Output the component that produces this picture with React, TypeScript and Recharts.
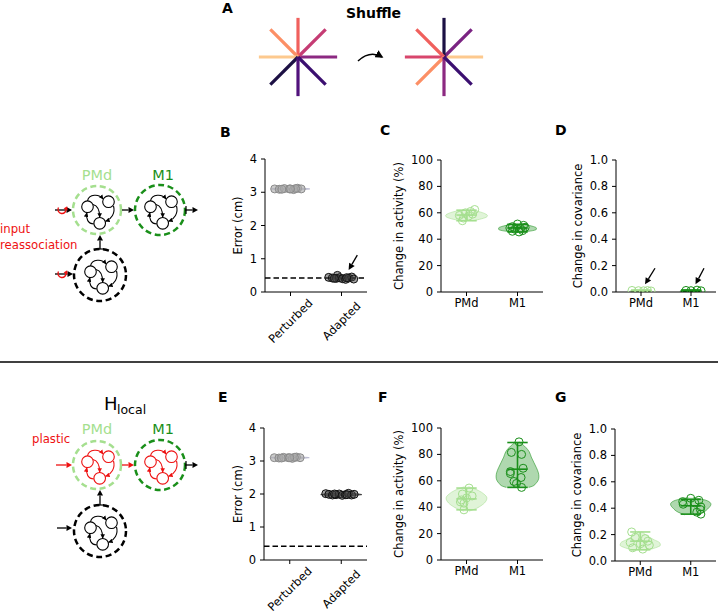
import React from 'react';
import { ComposedChart, LineChart, Line, Area, Scatter, XAxis, YAxis, ReferenceLine } from 'recharts';

const FONT = '"DejaVu Sans", "Liberation Sans", Arial, sans-serif';
const PMD = '#a5df8f';
const M1C = '#1a8f1a';
const RED = '#ee1111';
const GRAYV = '#a9a9c4';

// ---------- Panel A (reach directions) ----------
const SPOKE_DX = [1, 0.7071, 0, -0.7071, -1, -0.7071, 0, 0.7071];
const SPOKE_DY = [0, 0.7071, 1, 0.7071, 0, -0.7071, -1, -0.7071];
const COLORS_BEFORE = ['#8c2981', '#c53c74', '#f0605d', '#fc8f65', '#fdc98e', '#1c1044', '#51127c', '#3b0f70'];
const COLORS_AFTER = ['#fdc98e', '#7a2382', '#1c1044', '#f0605d', '#d8466c', '#fc8f65', '#8c2981', '#3b0f70'];

// ---------- categories & ticks ----------
const ERR_CATS = ['Perturbed', 'Adapted'];
const AREA_CATS = ['PMd', 'M1'];
const ERR_TICKS = [0, 1, 2, 3, 4];
const ACT_TICKS = [0, 20, 40, 60, 80, 100];
const COV_TICKS = [0, 0.2, 0.4, 0.6, 0.8, 1.0];
const BASELINE_ERR = 0.42;

// ---------- B ----------
const B_PERT_VALS = [3.10, 3.09, 3.11, 3.10, 3.08, 3.12, 3.10, 3.09, 3.11, 3.10];
const B_PERT_JIT = [-0.31, -0.22, -0.12, -0.02, 0.06, 0.14, 0.21, -0.17, 0.1, 0.0];
const B_PERT_VY = [3.07, 3.09, 3.10, 3.11, 3.13];
const B_PERT_VW = [0.15, 0.34, 0.38, 0.34, 0.15];
const B_ADAP_VALS = [0.50, 0.44, 0.42, 0.41, 0.43, 0.40, 0.38, 0.42, 0.45, 0.39, 0.41, 0.43];
const B_ADAP_JIT = [-0.08, -0.25, -0.18, -0.1, -0.04, 0.02, 0.08, 0.14, 0.2, 0.24, -0.14, 0.1];
const B_ADAP_VY = [0.37, 0.40, 0.42, 0.45, 0.50];
const B_ADAP_VW = [0.1, 0.25, 0.26, 0.2, 0.05];

// ---------- C ----------
const C_PMD_VALS = [62.5, 61, 60, 59, 58, 57.5, 56, 54];
const C_PMD_JIT = [0.16, 0.08, -0.02, 0.12, -0.14, 0.04, -0.06, -0.08];
const C_PMD_VY = [54, 55.5, 57, 58, 59, 60.5, 62];
const C_PMD_VW = [0.12, 0.3, 0.4, 0.41, 0.38, 0.28, 0.12];
const C_PMD_STATS = [54, 62, 58.3];
const C_M1_VALS = [51.5, 50.5, 49.5, 49, 48.5, 48, 47.5, 46.5, 46, 45.5];
const C_M1_JIT = [0, 0.12, -0.1, 0.15, -0.15, 0.06, -0.05, 0.1, -0.1, 0.03];
const C_M1_VY = [45.5, 46.5, 47.5, 48.5, 49.5, 50.5, 51.5];
const C_M1_VW = [0.12, 0.3, 0.37, 0.37, 0.32, 0.22, 0.08];
const C_M1_STATS = [45.5, 51.3, 48.5];

// ---------- D ----------
const D_PMD_VALS = [0.012, 0.01, 0.009, 0.011, 0.008];
const D_PMD_JIT = [-0.18, -0.05, 0.05, 0.13, 0.2];
const D_PMD_VY = [0.0, 0.006, 0.012, 0.02];
const D_PMD_VW = [0.1, 0.22, 0.2, 0.05];
const D_PMD_STATS = [0.005, 0.014, 0.01];
const D_M1_VALS = [0.012, 0.01, 0.014, 0.009];
const D_M1_JIT = [-0.1, 0.0, 0.12, 0.2];
const D_M1_VY = [0.0, 0.006, 0.012, 0.02];
const D_M1_VW = [0.1, 0.22, 0.2, 0.05];
const D_M1_STATS = [0.006, 0.015, 0.01];

// ---------- E ----------
const E_PERT_VALS = [3.10, 3.09, 3.11, 3.10, 3.08, 3.12, 3.10, 3.09, 3.11, 3.10];
const E_PERT_JIT = [-0.3, -0.21, -0.12, -0.03, 0.05, 0.13, 0.2, -0.16, 0.09, 0.0];
const E_PERT_VY = [3.07, 3.09, 3.10, 3.11, 3.13];
const E_PERT_VW = [0.15, 0.34, 0.38, 0.34, 0.15];
const E_ADAP_VALS = [2.01, 1.99, 1.97, 1.98, 2.0, 1.96, 1.98, 2.02, 1.97, 1.99, 2.0, 1.98];
const E_ADAP_JIT = [-0.3, -0.24, -0.17, -0.1, -0.04, 0.02, 0.08, 0.14, 0.2, 0.25, -0.13, 0.11];
const E_ADAP_VY = [1.94, 1.97, 1.98, 2.0, 2.03];
const E_ADAP_VW = [0.12, 0.36, 0.4, 0.34, 0.1];

// ---------- F ----------
const F_PMD_VALS = [54.5, 50, 48.5, 47, 45.5, 44, 43, 38];
const F_PMD_JIT = [0.05, -0.08, 0.11, 0.0, -0.1, -0.12, -0.05, -0.05];
const F_PMD_VY = [37, 38.5, 41, 44, 47, 50, 52.5, 54.5, 55.5];
const F_PMD_VW = [0.05, 0.16, 0.28, 0.37, 0.4, 0.34, 0.24, 0.12, 0.04];
const F_PMD_STATS = [38, 54.5, 46.3];
const F_M1_VALS = [89.5, 81.5, 80, 69.5, 67, 65.5, 62.5, 59.5, 58, 55];
const F_M1_JIT = [0.03, -0.12, 0.08, 0.11, -0.14, -0.14, 0.07, -0.07, -0.02, 0.08];
const F_M1_VY = [55, 56, 58, 60, 63, 66, 70, 74, 78, 82, 85, 87.5, 89.5];
const F_M1_VW = [0.22, 0.3, 0.36, 0.4, 0.42, 0.41, 0.37, 0.32, 0.27, 0.23, 0.17, 0.1, 0.03];
const F_M1_STATS = [55, 89, 68.8];

// ---------- G ----------
const G_PMD_VALS = [0.22, 0.18, 0.17, 0.15, 0.14, 0.13, 0.12, 0.10, 0.09];
const G_PMD_JIT = [-0.17, -0.1, 0.1, 0.15, -0.2, 0.0, 0.18, -0.15, 0.05];
const G_PMD_VY = [0.08, 0.10, 0.12, 0.14, 0.16, 0.18, 0.20, 0.225];
const G_PMD_VW = [0.12, 0.3, 0.4, 0.38, 0.28, 0.18, 0.1, 0.03];
const G_PMD_STATS = [0.085, 0.22, 0.15];
const G_M1_VALS = [0.475, 0.46, 0.45, 0.44, 0.43, 0.41, 0.39, 0.37, 0.355];
const G_M1_JIT = [0.0, 0.16, -0.16, 0.08, -0.15, 0.2, 0.19, 0.12, 0.2];
const G_M1_VY = [0.35, 0.37, 0.40, 0.43, 0.45, 0.47, 0.48];
const G_M1_VW = [0.12, 0.25, 0.35, 0.4, 0.36, 0.2, 0.05];
const G_M1_STATS = [0.355, 0.467, 0.418];

// annotation arrows (data coords): [x1, y1, x2, y2]
const B_ARROWS = [[1.31, 1.11, 1.14, 0.66]];
const D_ARROWS = [[0.28, 0.18, 0.08, 0.058], [1.26, 0.18, 1.09, 0.058]];

type Group = {
  pos: number; vals: number[]; jit: number[]; vy: number[]; vw: number[];
  color: string; fillOp: number; ptStroke: string; ptFill: string; ptFillOp: number; stats?: number[];
};

const pmdGroup = (vals, jit, vy, vw, stats): Group => ({ pos: 0, vals, jit, vy, vw, color: PMD, fillOp: 0.35, ptStroke: PMD, ptFill: 'none', ptFillOp: 0, stats });
const m1Group = (vals, jit, vy, vw, stats): Group => ({ pos: 1, vals, jit, vy, vw, color: M1C, fillOp: 0.35, ptStroke: M1C, ptFill: 'none', ptFillOp: 0, stats });
const pertGroup = (vals, jit, vy, vw): Group => ({ pos: 0, vals, jit, vy, vw, color: GRAYV, fillOp: 0.6, ptStroke: '#8a8a8a', ptFill: '#a8a8a8', ptFillOp: 0.6 });
const adapGroup = (vals, jit, vy, vw): Group => ({ pos: 1, vals, jit, vy, vw, color: '#000', fillOp: 0.5, ptStroke: '#111', ptFill: '#444', ptFillOp: 0.5 });

const ArrowShape = (p: any) => {
  const { x1, y1, x2, y2 } = p;
  const ang = Math.atan2(y2 - y1, x2 - x1);
  const L = 6.5, W = 3.2;
  const bx = x2 - L * Math.cos(ang), by = y2 - L * Math.sin(ang);
  const pts = `${x2},${y2} ${bx - W * Math.sin(ang)},${by + W * Math.cos(ang)} ${bx + W * Math.sin(ang)},${by - W * Math.cos(ang)}`;
  return (
    <g>
      <line x1={x1} y1={y1} x2={bx} y2={by} stroke="#000" strokeWidth={1.3} />
      <polygon points={pts} fill="#000" />
    </g>
  );
};

const RotTick = (props: any) => {
  const { x, y, payload, cats } = props;
  const cy = y + 22;
  return (
    <text x={x} y={cy} transform={`rotate(-45 ${x} ${cy})`} textAnchor="middle" dominantBaseline="central"
      fontSize={11.5} fontFamily={FONT} fill="#000">{cats[payload.value]}</text>
  );
};

type PanelProps = {
  plot: { left: number; top: number; w: number; h: number };
  yDomain: number[]; yTicks: number[]; yFmt: (v: number) => string; yTitle: string; titleX: number;
  cats: string[]; groups: Group[]; dashed?: number; arrows?: number[][]; rotated?: boolean;
};

function ViolinPanel({ plot, yDomain, yTicks, yFmt, yTitle, titleX, cats, groups, dashed, arrows, rotated }: PanelProps) {
  const mr = Math.min(8, 718 - (plot.left + plot.w));
  const cl = plot.left - 65;
  const ct = plot.top - 20;
  const width = plot.w + 65 + mr;
  const height = plot.h + 20 + 60;
  const rows: any[] = [];
  groups.forEach((g, gi) => g.vy.forEach((y, i) => {
    const row: any = { y };
    groups.forEach((_, gj) => { row['g' + gj] = [null, null]; });
    row['g' + gi] = [g.pos - g.vw[i], g.pos + g.vw[i]];
    rows.push(row);
  }));
  const tx = titleX - cl;
  const ty = 20 + plot.h / 2;
  const tickStyle = { fontSize: 11.5, fill: '#000', fontFamily: FONT };
  return (
    <div style={{ position: 'absolute', left: cl, top: ct }}>
      <ComposedChart layout="vertical" width={width} height={height} data={rows}
        margin={{ top: 20, right: mr, bottom: 10, left: 25 }} style={{ fontFamily: FONT }}>
        <XAxis type="number" dataKey="x" domain={[-0.5, 1.5]} ticks={[0, 1]} interval={0} allowDataOverflow
          height={50} tickSize={4} tickMargin={3} axisLine={{ stroke: '#000' }} tickLine={{ stroke: '#000' }}
          tick={rotated ? <RotTick cats={cats} /> : tickStyle} tickFormatter={(v: number) => cats[v]} />
        <YAxis type="number" dataKey="y" domain={yDomain} ticks={yTicks} interval={0} allowDataOverflow reversed
          width={40} tickSize={4} tickMargin={4} axisLine={{ stroke: '#000' }} tickLine={{ stroke: '#000' }}
          tick={tickStyle} tickFormatter={yFmt}
          label={() => (
            <text x={tx} y={ty} transform={`rotate(-90 ${tx} ${ty})`} textAnchor="middle" dominantBaseline="central"
              fontSize={11.5} fontFamily={FONT} fill="#000">{yTitle}</text>
          )} />
        {groups.map((g, gi) => (
          <Area key={'a' + gi} dataKey={'g' + gi} type="monotone" fill={g.color} fillOpacity={g.fillOp}
            stroke={g.color} strokeOpacity={0.55} strokeWidth={1} dot={false} activeDot={false}
            connectNulls={false} isAnimationActive={false} />
        ))}
        {dashed != null && (
          <ReferenceLine y={dashed} stroke="#000" strokeWidth={1.5} strokeDasharray="5.5 3" ifOverflow="visible" />
        )}
        {groups.filter((g) => g.stats).flatMap((g, gi) => {
          const [mn, mx, mean] = g.stats as number[];
          const c = 0.2;
          return [
            <ReferenceLine key={'v' + gi} segment={[{ x: g.pos, y: mn }, { x: g.pos, y: mx }]} stroke={g.color} strokeWidth={1.6} ifOverflow="visible" />,
            <ReferenceLine key={'lo' + gi} segment={[{ x: g.pos - c, y: mn }, { x: g.pos + c, y: mn }]} stroke={g.color} strokeWidth={1.6} ifOverflow="visible" />,
            <ReferenceLine key={'hi' + gi} segment={[{ x: g.pos - c, y: mx }, { x: g.pos + c, y: mx }]} stroke={g.color} strokeWidth={1.6} ifOverflow="visible" />,
            <ReferenceLine key={'me' + gi} segment={[{ x: g.pos - c, y: mean }, { x: g.pos + c, y: mean }]} stroke={g.color} strokeWidth={1.6} ifOverflow="visible" />,
          ];
        })}
        {groups.map((g, gi) => (
          <Scatter key={'s' + gi} data={g.vals.map((v, i) => ({ x: g.pos + g.jit[i], y: v }))} isAnimationActive={false}
            shape={(p: any) => (
              <circle cx={p.cx} cy={p.cy} r={4} fill={g.ptFill} fillOpacity={g.ptFillOp} stroke={g.ptStroke} strokeWidth={1} />
            )} />
        ))}
        {(arrows || []).map((a, i) => (
          <ReferenceLine key={'ar' + i} segment={[{ x: a[0], y: a[1] }, { x: a[2], y: a[3] }]} ifOverflow="visible" shape={ArrowShape} />
        ))}
      </ComposedChart>
    </div>
  );
}

function Star({ colors, left, top }: { colors: string[]; left: number; top: number }) {
  return (
    <div style={{ position: 'absolute', left, top }}>
      <LineChart width={90} height={90} margin={{ top: 0, right: 0, bottom: 0, left: 0 }}>
        <XAxis type="number" dataKey="x" domain={[-1.15, 1.15]} hide allowDataOverflow />
        <YAxis type="number" domain={[-1.15, 1.15]} hide allowDataOverflow />
        {SPOKE_DX.map((dx, i) => (
          <Line key={i} data={[{ x: 0, y: 0 }, { x: dx, y: SPOKE_DY[i] }]} dataKey="y" type="linear"
            stroke={colors[i]} strokeWidth={3.2} dot={false} activeDot={false} isAnimationActive={false} />
        ))}
      </LineChart>
    </div>
  );
}

function Arr({ x1, y1, x2, y2, color, head = 5.5, w = 1.3 }: any) {
  const ang = Math.atan2(y2 - y1, x2 - x1);
  const bx = x2 - head * Math.cos(ang), by = y2 - head * Math.sin(ang);
  const hw = head * 0.55;
  return (
    <g>
      <line x1={x1} y1={y1} x2={bx} y2={by} stroke={color} strokeWidth={w} />
      <polygon points={`${x2},${y2} ${bx - hw * Math.sin(ang)},${by + hw * Math.cos(ang)} ${bx + hw * Math.sin(ang)},${by - hw * Math.cos(ang)}`} fill={color} />
    </g>
  );
}

const NET_C = [[-9.5, -3.3], [11.5, -8.3], [2.7, 13.3]];
const NET_P = [
  'M -9.5 -9.1 C -8 -16 2 -16.5 6 -11',
  'M -4 -5.5 C 0 -4.5 2.7 -1 2.7 7.2',
  'M 16.5 -4 C 18.5 3 14.5 9 8.6 11.3',
  'M -3.1 14 C -9 13.8 -11.2 9 -10.2 2.8',
];

function Net({ cx, cy, r, ring, ink }: any) {
  const m = ink === RED ? 'url(#mr)' : 'url(#mk)';
  return (
    <g>
      <circle cx={cx} cy={cy} r={r} fill="none" stroke={ring} strokeWidth={2.5} strokeDasharray="6 3.6" />
      <g transform={`translate(${cx},${cy})`}>
        {NET_C.map(([x, y], i) => <circle key={i} cx={x} cy={y} r={5.8} fill="none" stroke={ink} strokeWidth={1.1} />)}
        {NET_P.map((d, i) => <path key={i} d={d} fill="none" stroke={ink} strokeWidth={1.1} markerEnd={m} />)}
      </g>
    </g>
  );
}

function Reassoc({ cx, cy }: any) {
  return (
    <g>
      <path d={`M ${cx - 3.5} ${cy - 2.5} A 4 4 0 1 0 ${cx + 3.8} ${cy - 1.5}`} fill="none" stroke={RED} strokeWidth={1.4} />
      <polygon points={`${cx + 5.2},${cy - 3.8} ${cx + 1.6},${cy - 1.6} ${cx + 5.6},${cy + 0.6}`} fill={RED} />
    </g>
  );
}

function Overlay() {
  const letter = { fontSize: 14, fontWeight: 'bold' as const, fontFamily: FONT, fill: '#000' };
  return (
    <svg width={718} height={616} style={{ position: 'absolute', left: 0, top: 0 }}>
      <defs>
        <marker id="mk" viewBox="0 0 10 10" refX="9" refY="5" markerWidth="4.5" markerHeight="4.5" markerUnits="userSpaceOnUse" orient="auto">
          <path d="M0,0 L10,5 L0,10 z" fill="#000" />
        </marker>
        <marker id="mr" viewBox="0 0 10 10" refX="9" refY="5" markerWidth="4.5" markerHeight="4.5" markerUnits="userSpaceOnUse" orient="auto">
          <path d="M0,0 L10,5 L0,10 z" fill={RED} />
        </marker>
        <marker id="mA" viewBox="0 0 10 10" refX="8" refY="5" markerWidth="8" markerHeight="8" markerUnits="userSpaceOnUse" orient="auto">
          <path d="M0,0 L10,5 L0,10 z" fill="#000" />
        </marker>
      </defs>
      {/* Panel A */}
      <text x={222} y={13} {...letter}>A</text>
      <text x={373.5} y={18} textAnchor="middle" {...letter}>Shuffle</text>
      <path d="M 358 61 Q 370 50 382 57" fill="none" stroke="#000" strokeWidth={1.6} markerEnd="url(#mA)" />

      {/* panel letters */}
      <text x={220} y={136.5} {...letter}>B</text>
      <text x={380} y={135} {...letter}>C</text>
      <text x={555} y={135} {...letter}>D</text>
      <text x={218} y={401.5} {...letter}>E</text>
      <text x={378} y={401.5} {...letter}>F</text>
      <text x={555} y={401.5} {...letter}>G</text>

      {/* divider */}
      <line x1={0} y1={362} x2={718} y2={362} stroke="#000" strokeWidth={1.5} />

      {/* top schematic */}
      <text x={97} y={180} textAnchor="middle" fontSize={14.5} fontFamily={FONT} fill={PMD}>PMd</text>
      <text x={163} y={180} textAnchor="middle" fontSize={14.5} fontFamily={FONT} fill={M1C}>M1</text>
      <text x={0} y={233} fontSize={11.7} fontFamily={FONT} fill={RED}>input</text>
      <text x={0} y={249} fontSize={11.7} fontFamily={FONT} fill={RED}>reassociation</text>
      <Net cx={97} cy={210} r={24} ring={PMD} ink="#000" />
      <Net cx={160} cy={210} r={25} ring={M1C} ink="#000" />
      <Net cx={100} cy={275} r={26} ring="#000" ink="#000" />
      <Arr x1={55} y1={210} x2={72} y2={210} color="#000" />
      <Reassoc cx={62} cy={210} />
      <Arr x1={55} y1={274} x2={73} y2={274} color="#000" />
      <Reassoc cx={62} cy={274} />
      <Arr x1={122} y1={210} x2={134} y2={210} color="#000" />
      <Arr x1={185} y1={210} x2={198} y2={210} color="#000" />
      <line x1={186} y1={206} x2={186} y2={214} stroke="#000" strokeWidth={1.2} />
      <Arr x1={100} y1={249} x2={100} y2={235} color="#000" />
      <line x1={96} y1={249} x2={104} y2={249} stroke="#000" strokeWidth={1.2} />

      {/* bottom schematic */}
      <text x={104} y={410} fontSize={18} fontFamily={FONT} fill="#000">H</text>
      <text x={117} y={414} fontSize={12.5} fontFamily={FONT} fill="#000">local</text>
      <text x={97} y={434} textAnchor="middle" fontSize={14.5} fontFamily={FONT} fill={PMD}>PMd</text>
      <text x={163} y={434} textAnchor="middle" fontSize={14.5} fontFamily={FONT} fill={M1C}>M1</text>
      <text x={32} y={443} fontSize={11.7} fontFamily={FONT} fill={RED}>plastic</text>
      <Net cx={97} cy={465} r={24} ring={PMD} ink={RED} />
      <Net cx={160} cy={465} r={25} ring={M1C} ink={RED} />
      <Net cx={100} cy={531} r={26} ring="#000" ink="#000" />
      <Arr x1={56} y1={465} x2={72} y2={465} color={RED} />
      <Arr x1={122} y1={465} x2={134} y2={465} color={RED} />
      <Arr x1={185} y1={465} x2={198} y2={465} color="#000" />
      <line x1={186} y1={461} x2={186} y2={469} stroke="#000" strokeWidth={1.2} />
      <Arr x1={57} y1={528} x2={72} y2={528} color="#000" />
      <Arr x1={100} y1={505} x2={100} y2={490} color="#000" />
      <line x1={96} y1={505} x2={104} y2={505} stroke="#000" strokeWidth={1.2} />
    </svg>
  );
}

const fmt0 = (v: number) => String(v);
const fmt1 = (v: number) => v.toFixed(1);

export default function App() {
  return (
    <div style={{ position: 'absolute', left: 0, top: 0, width: 718, height: 616, background: '#fff', overflow: 'hidden', fontFamily: FONT }}>
      <Overlay />
      <Star colors={COLORS_BEFORE} left={253} top={12} />
      <Star colors={COLORS_AFTER} left={399} top={12} />

      <ViolinPanel plot={{ left: 265, top: 159, w: 102, h: 133 }} yDomain={[0, 4]} yTicks={ERR_TICKS} yFmt={fmt0}
        yTitle="Error (cm)" titleX={238} cats={ERR_CATS} rotated dashed={BASELINE_ERR} arrows={B_ARROWS}
        groups={[pertGroup(B_PERT_VALS, B_PERT_JIT, B_PERT_VY, B_PERT_VW), adapGroup(B_ADAP_VALS, B_ADAP_JIT, B_ADAP_VY, B_ADAP_VW)]} />
      <ViolinPanel plot={{ left: 441, top: 160, w: 102, h: 132 }} yDomain={[0, 100]} yTicks={ACT_TICKS} yFmt={fmt0}
        yTitle="Change in activity (%)" titleX={399} cats={AREA_CATS}
        groups={[pmdGroup(C_PMD_VALS, C_PMD_JIT, C_PMD_VY, C_PMD_VW, C_PMD_STATS), m1Group(C_M1_VALS, C_M1_JIT, C_M1_VY, C_M1_VW, C_M1_STATS)]} />
      <ViolinPanel plot={{ left: 616, top: 160, w: 100, h: 132 }} yDomain={[0, 1]} yTicks={COV_TICKS} yFmt={fmt1}
        yTitle="Change in covariance" titleX={577.5} cats={AREA_CATS} arrows={D_ARROWS}
        groups={[pmdGroup(D_PMD_VALS, D_PMD_JIT, D_PMD_VY, D_PMD_VW, D_PMD_STATS), m1Group(D_M1_VALS, D_M1_JIT, D_M1_VY, D_M1_VW, D_M1_STATS)]} />

      <ViolinPanel plot={{ left: 264, top: 428, w: 103, h: 132 }} yDomain={[0, 4]} yTicks={ERR_TICKS} yFmt={fmt0}
        yTitle="Error (cm)" titleX={238} cats={ERR_CATS} rotated dashed={BASELINE_ERR}
        groups={[pertGroup(E_PERT_VALS, E_PERT_JIT, E_PERT_VY, E_PERT_VW), adapGroup(E_ADAP_VALS, E_ADAP_JIT, E_ADAP_VY, E_ADAP_VW)]} />
      <ViolinPanel plot={{ left: 441, top: 428, w: 102, h: 132 }} yDomain={[0, 100]} yTicks={ACT_TICKS} yFmt={fmt0}
        yTitle="Change in activity (%)" titleX={399} cats={AREA_CATS}
        groups={[pmdGroup(F_PMD_VALS, F_PMD_JIT, F_PMD_VY, F_PMD_VW, F_PMD_STATS), m1Group(F_M1_VALS, F_M1_JIT, F_M1_VY, F_M1_VW, F_M1_STATS)]} />
      <ViolinPanel plot={{ left: 615, top: 429, w: 101, h: 132 }} yDomain={[0, 1]} yTicks={COV_TICKS} yFmt={fmt1}
        yTitle="Change in covariance" titleX={577} cats={AREA_CATS}
        groups={[pmdGroup(G_PMD_VALS, G_PMD_JIT, G_PMD_VY, G_PMD_VW, G_PMD_STATS), m1Group(G_M1_VALS, G_M1_JIT, G_M1_VY, G_M1_VW, G_M1_STATS)]} />
    </div>
  );
}
